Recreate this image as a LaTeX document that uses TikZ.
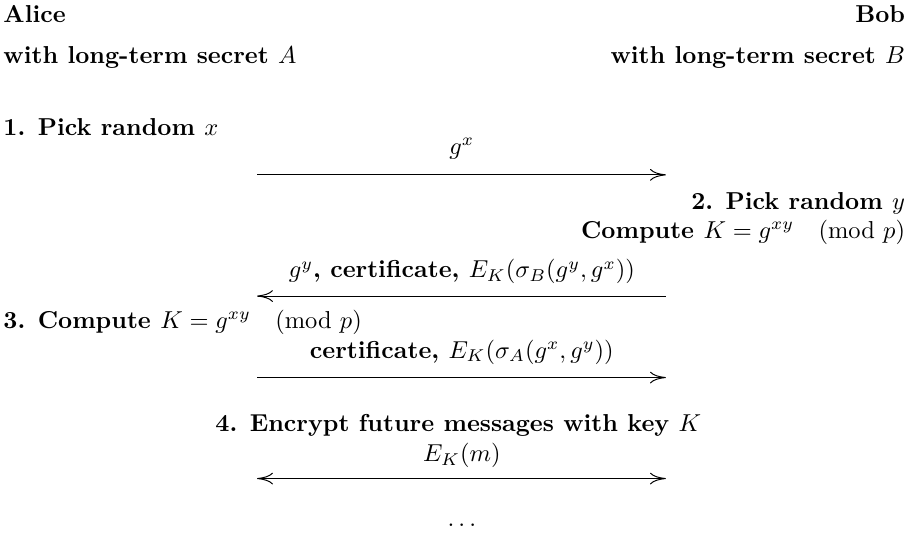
\documentclass[tikz,border=0pt]{standalone}
\usepackage{tikz}
\usetikzlibrary{arrows.meta}

\tikzset{
  tip/.tip={To[length=6.5pt,width=4.8pt]},
  party/.style={inner sep=0pt, font=\bfseries},
  msg/.style={inner sep=0pt, anchor=base, font=\bfseries},
  flow/.style={-tip, thin}
}

\begin{document}
\begin{tikzpicture}
\useasboundingbox (0,0) rectangle (13.05,-7.68);
%%%%% Parties %%%%%
\node[party, anchor=base west] (alice) at (0.043,-0.33) {Alice};
\node[party, anchor=base west] (alicekey) at (0.043,-0.918) {with long-term secret $A$};
\node[party, anchor=base east] (bob) at (13.0,-0.33) {Bob};
\node[party, anchor=base east] (bobkey) at (13.0,-0.918) {with long-term secret $B$};
%%%%% Steps %%%%%
\node[party, anchor=base west] (step1) at (0.043,-1.95) {1. Pick random $x$};
\node[party, anchor=base east] (step2) at (13.0,-3.01) {2. Pick random $y$};
\node[party, anchor=base east] (bobK) at (13.0,-3.42) {Compute $K = g^{xy} \pmod p$};
\node[party, anchor=base west] (step3) at (0.043,-4.72) {3. Compute $K = g^{xy} \pmod p$};
\node[party, anchor=base] (step4) at (6.58,-6.20) {4. Encrypt future messages with key $K$};
%%%%% Messages %%%%%
\coordinate (m1s) at (3.69,-2.51);
\coordinate (m1e) at (9.56,-2.51);
\coordinate (m2s) at (9.56,-4.25);
\coordinate (m2e) at (3.69,-4.25);
\coordinate (m3s) at (3.69,-5.42);
\coordinate (m3e) at (9.56,-5.42);
\coordinate (m4s) at (3.69,-6.87);
\coordinate (m4e) at (9.56,-6.87);
\draw[flow] (m1s) -- (m1e);
\draw[flow] (m2s) -- (m2e);
\draw[flow] (m3s) -- (m3e);
\draw[flow, tip-tip] (m4s) -- (m4e);
\node[msg] (gx) at (6.63,-2.22) {$g^x$};
\node[msg] (reply) at (6.63,-3.99) {$g^y$, certificate, $E_K(\sigma_B(g^y, g^x))$};
\node[msg] (confirm) at (6.63,-5.14) {certificate, $E_K(\sigma_A(g^x, g^y))$};
\node[msg] (data) at (6.63,-6.63) {$E_K(m)$};
\node[msg] (more) at (6.63,-7.56) {$\ldots$};
\end{tikzpicture}
\end{document}
